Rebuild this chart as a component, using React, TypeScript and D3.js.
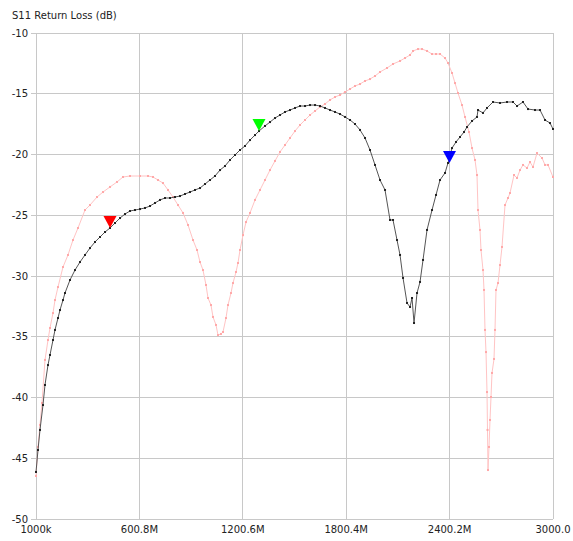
import React from 'react';
import * as d3 from 'd3';

const blackFreq = [1, 12.6, 24.2, 41.6, 53.2, 70.6, 82.2, 99.6, 111.2, 128.6, 140.2, 157.6, 169.2, 198.2, 227.2, 256.2, 285.2, 314.2, 343.2, 372.3, 401.3, 430.3, 459.3, 488.3, 517.3, 546.3, 575.3, 604.3, 633.3, 662.3, 691.3, 720.3, 749.3, 778.3, 807.3, 836.3, 865.3, 894.3, 923.3, 952.3, 981.3, 1010.3, 1039.4, 1068.4, 1097.4, 1126.4, 1155.4, 1184.4, 1213.4, 1242.4, 1271.4, 1294.6, 1329.4, 1358.4, 1387.4, 1416.4, 1445.4, 1474.4, 1503.4, 1532.5, 1561.5, 1590.5, 1619.5, 1648.5, 1677.5, 1706.5, 1735.5, 1764.5, 1793.5, 1822.5, 1851.5, 1880.5, 1909.5, 1938.5, 1967.5, 1996.5, 2025.6, 2054.6, 2072.0, 2095.2, 2112.6, 2130.0, 2153.2, 2170.6, 2182.2, 2193.8, 2211.2, 2228.6, 2246.0, 2269.2, 2298.2, 2321.4, 2344.6, 2373.6, 2391.0, 2414.2, 2437.4, 2460.6, 2483.8, 2501.2, 2530.2, 2559.2, 2565.0, 2594.0, 2617.2, 2652.0, 2692.6, 2733.2, 2768.0, 2791.2, 2826.0, 2855.0, 2895.6, 2924.6, 2953.6, 2982.6, 3000];
const blackDb = [-46.13, -44.32, -42.67, -40.62, -38.97, -37.33, -36.5, -35.27, -34.44, -33.46, -32.8, -31.98, -31.4, -30.33, -29.51, -28.85, -28.27, -27.7, -27.2, -26.79, -26.38, -26.05, -25.64, -25.23, -24.9, -24.65, -24.57, -24.49, -24.4, -24.24, -23.99, -23.74, -23.58, -23.58, -23.5, -23.42, -23.25, -23.09, -22.92, -22.76, -22.43, -22.1, -21.77, -21.28, -20.95, -20.45, -20.04, -19.63, -19.3, -18.81, -18.4, -18.07, -17.65, -17.33, -17.0, -16.75, -16.5, -16.34, -16.17, -16.01, -16.01, -15.93, -15.93, -16.01, -16.17, -16.34, -16.5, -16.67, -16.91, -17.16, -17.49, -17.98, -18.64, -19.63, -20.86, -22.1, -22.92, -25.39, -25.39, -27.04, -28.27, -30.16, -32.22, -32.55, -31.81, -33.87, -31.4, -30.49, -28.68, -26.21, -24.57, -23.33, -22.1, -21.52, -20.7, -19.47, -18.97, -18.56, -18.15, -17.74, -17.24, -16.91, -16.34, -16.58, -16.17, -15.68, -15.76, -15.68, -15.68, -16.01, -15.68, -16.26, -16.34, -16.34, -17.16, -17.41, -17.9];

const redFreq = [1, 12.6, 24.2, 35.8, 53.2, 70.6, 82.2, 99.6, 111.2, 128.6, 157.6, 186.6, 215.6, 244.6, 285.2, 314.2, 354.8, 389.7, 430.3, 470.9, 505.7, 546.3, 604.3, 650.7, 679.7, 708.7, 737.7, 766.7, 795.7, 824.8, 853.8, 882.8, 911.8, 935.0, 952.3, 969.7, 987.1, 998.7, 1016.1, 1027.7, 1045.1, 1056.7, 1074.1, 1085.7, 1103.1, 1114.7, 1132.1, 1143.7, 1161.1, 1172.7, 1184.4, 1201.8, 1219.2, 1242.4, 1271.4, 1300.4, 1329.4, 1358.4, 1387.4, 1416.4, 1445.4, 1474.4, 1503.4, 1532.5, 1561.5, 1590.5, 1619.5, 1648.5, 1677.5, 1706.5, 1735.5, 1764.5, 1793.5, 1822.5, 1851.5, 1880.5, 1909.5, 1938.5, 1967.5, 1996.5, 2037.1, 2072.0, 2112.6, 2141.6, 2170.6, 2188.0, 2217.0, 2240.2, 2269.2, 2298.2, 2321.4, 2344.6, 2373.6, 2391.0, 2414.2, 2431.6, 2449.0, 2472.2, 2489.6, 2512.8, 2530.2, 2547.6, 2559.2, 2565.0, 2576.6, 2582.4, 2594.0, 2599.8, 2605.6, 2611.4, 2617.2, 2620.1, 2623.0, 2628.8, 2634.6, 2640.4, 2646.2, 2657.8, 2663.6, 2669.4, 2681.0, 2692.6, 2704.2, 2721.6, 2739.0, 2750.6, 2773.8, 2791.2, 2808.6, 2826.0, 2849.2, 2866.6, 2884.0, 2907.2, 2936.2, 2953.6, 2971.0, 3000];
const redDb = [-46.46, -44.07, -42.26, -40.45, -36.91, -35.27, -34.28, -33.05, -31.98, -30.91, -29.26, -28.27, -27.04, -26.05, -24.57, -24.16, -23.5, -23.09, -22.67, -22.26, -21.85, -21.77, -21.77, -21.77, -21.85, -22.1, -22.35, -22.92, -23.5, -24.16, -24.81, -25.8, -27.04, -27.86, -28.85, -29.51, -30.74, -31.81, -32.39, -33.37, -34.03, -34.86, -34.77, -34.61, -33.46, -32.39, -31.4, -30.58, -29.67, -28.93, -27.86, -26.63, -25.56, -24.81, -23.74, -22.92, -22.1, -21.28, -20.53, -19.79, -19.22, -18.64, -18.07, -17.57, -17.16, -16.75, -16.42, -16.09, -15.84, -15.51, -15.27, -15.1, -14.86, -14.61, -14.36, -14.2, -13.95, -13.79, -13.54, -13.21, -12.88, -12.55, -12.3, -12.06, -11.81, -11.48, -11.32, -11.32, -11.48, -11.73, -11.73, -11.73, -12.06, -12.47, -13.29, -14.12, -14.94, -15.93, -16.91, -18.15, -19.47, -20.45, -21.69, -24.57, -26.21, -27.86, -29.51, -31.15, -34.44, -36.26, -39.55, -42.67, -45.97, -44.07, -41.85, -39.96, -37.98, -36.83, -34.44, -31.15, -30.58, -29.1, -27.61, -24.16, -23.58, -23.17, -21.69, -21.93, -21.28, -20.86, -21.11, -20.62, -21.03, -19.88, -20.29, -20.86, -20.86, -21.85];

const xTickValues = [1, 600.8, 1200.6, 1800.4, 2400.2, 3000];
const xTickLabels = ['1000k', '600.8M', '1200.6M', '1800.4M', '2400.2M', '3000.0'];
const yTickValues = [-10, -15, -20, -25, -30, -35, -40, -45, -50];

const markerFreq = [430.3, 1294.6, 2399.6];
const markerDb = [-26.05, -18.07, -20.7];
const markerColors = ['#ff0000', '#00ff00', '#0000ff'];

const W = 573;
const H = 541;
const L = 36, R = 553, T = 33, B = 519;
const FONT = '"DejaVu Sans", Verdana, sans-serif';

export default function App() {
  const x = d3.scaleLinear().domain([1, 3000]).range([L, R]);
  const y = d3.scaleLinear().domain([-10, -50]).range([T, B]);
  const line = d3.line<[number, number]>().x(d => x(d[0])).y(d => y(d[1]));
  const black: [number, number][] = blackFreq.map((f, i) => [f, blackDb[i]]);
  const red: [number, number][] = redFreq.map((f, i) => [f, redDb[i]]);
  const grid = '#c8c8c8';

  return (
    <div style={{ position: 'fixed', left: 0, top: 0 }}>
      <svg width={W} height={H} style={{ display: 'block', background: '#fff' }}>
        <text x={12} y={19} fontFamily={FONT} fontSize={10} fill="#222">S11 Return Loss (dB)</text>
        {yTickValues.map(v => (
          <g key={'y' + v}>
            <line x1={L - 5} x2={R} y1={y(v)} y2={y(v)} stroke={grid} strokeWidth={1} shapeRendering="crispEdges" />
            <text x={28} y={y(v)} dy="0.35em" textAnchor="end" fontFamily={FONT} fontSize={10} fill="#222">{v}</text>
          </g>
        ))}
        {xTickValues.map((v, i) => (
          <g key={'x' + v}>
            <line x1={x(v)} x2={x(v)} y1={T} y2={B} stroke={grid} strokeWidth={1} shapeRendering="crispEdges" />
            <text x={x(v)} y={533} textAnchor="middle" fontFamily={FONT} fontSize={10} fill="#222">{xTickLabels[i]}</text>
          </g>
        ))}
        <path d={line(red) || ''} fill="none" stroke="#ffc4c4" strokeWidth={1} />
        {red.map((d, i) => (
          <rect key={'r' + i} x={x(d[0]) - 1} y={y(d[1]) - 1} width={2} height={2} fill="#ffa8a8" />
        ))}
        <path d={line(black) || ''} fill="none" stroke="#555" strokeWidth={1} />
        {black.map((d, i) => (
          <rect key={'b' + i} x={x(d[0]) - 1} y={y(d[1]) - 1} width={2} height={2} fill="#222" />
        ))}
        {markerFreq.map((f, i) => {
          const px = x(f), py = y(markerDb[i]);
          return (
            <path key={'m' + i} d={`M${px - 6.5},${py - 12}L${px + 6.5},${py - 12}L${px},${py}Z`} fill={markerColors[i]} />
          );
        })}
      </svg>
    </div>
  );
}
